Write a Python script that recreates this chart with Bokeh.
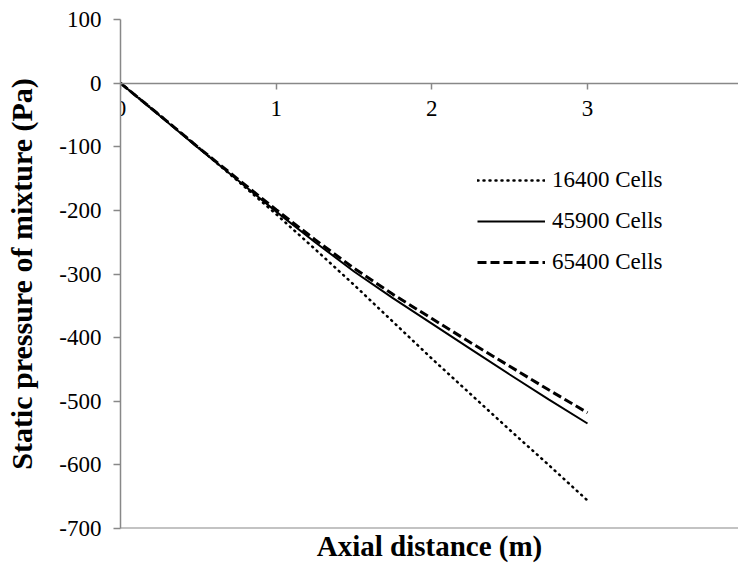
from bokeh.plotting import figure
from bokeh.models import LinearAxis, FixedTicker, Span, Legend, LegendItem, Range1d
from bokeh.embed import file_html
from bokeh.resources import INLINE

# Data
x_vals = [0, 0.25, 0.5, 0.75, 1.0, 1.25, 1.5, 1.75, 2.0, 2.25, 2.5, 2.75, 3.0]
p_16400 = [0, -50, -101, -153, -206, -261, -317, -375, -433, -489, -545, -600, -656]
p_45900 = [0, -51, -102, -152, -202, -250, -296, -338, -378, -418, -458, -497, -535]
p_65400 = [0, -50, -101, -150, -199, -246, -291, -332, -370, -408, -445, -482, -518]
series_names = ["16400 Cells", "45900 Cells", "65400 Cells"]
x_ticks = [0, 1, 2, 3]
y_ticks = [-700, -600, -500, -400, -300, -200, -100, 0, 100]

FONT = "Liberation Serif"
AX = "#888888"

p = figure(width=738, height=573, x_range=Range1d(0, 3.97), y_range=Range1d(-700, 100),
           output_backend="svg", toolbar_location=None, x_axis_location=None,
           y_axis_location=None, min_border_left=120, min_border_right=0,
           min_border_top=19, min_border_bottom=45)
p.xgrid.visible = False
p.ygrid.visible = False
p.outline_line_color = None
p.background_fill_color = "white"
p.border_fill_color = "white"

# Y axis
yax = LinearAxis(ticker=FixedTicker(ticks=y_ticks))
yax.axis_line_color = AX
yax.axis_line_width = 1.5
yax.major_tick_line_color = AX
yax.major_tick_line_width = 1.5
yax.major_tick_out = 7
yax.major_tick_in = 0
yax.minor_tick_line_color = None
yax.major_label_overrides = {t: str(t) for t in y_ticks}
yax.major_label_text_font = FONT
yax.major_label_text_font_size = "23px"
yax.major_label_text_color = "black"
yax.major_label_standoff = 12
yax.axis_label = "Static pressure of mixture (Pa)"
yax.axis_label_text_font = FONT
yax.axis_label_text_font_size = "30px"
yax.axis_label_text_font_style = "bold"
yax.axis_label_text_color = "black"
yax.axis_label_standoff = 18
p.add_layout(yax, "left")

# X axis crossing at y = 0
xax = LinearAxis(ticker=FixedTicker(ticks=x_ticks), fixed_location=0)
xax.axis_line_color = AX
xax.axis_line_width = 1.5
xax.major_tick_line_color = AX
xax.major_tick_line_width = 1.5
xax.major_tick_out = 6
xax.major_tick_in = 0
xax.minor_tick_line_color = None
xax.major_label_text_font = FONT
xax.major_label_text_font_size = "23px"
xax.major_label_text_color = "black"
xax.major_label_standoff = 12
p.add_layout(xax, "below")

# Bottom axis carrying only the title
tax = LinearAxis(ticker=FixedTicker(ticks=[]))
tax.axis_line_color = None
tax.major_tick_line_color = None
tax.minor_tick_line_color = None
tax.axis_label = "Axial distance (m)"
tax.axis_label_text_font = FONT
tax.axis_label_text_font_size = "29px"
tax.axis_label_text_font_style = "bold"
tax.axis_label_text_color = "black"
tax.axis_label_standoff = 1
p.add_layout(tax, "below")

p.add_layout(Span(location=-700, dimension="width", line_color=AX, line_width=2))

r1 = p.line(x_vals, p_16400, line_color="black", line_width=2.5, line_dash="1 5", line_cap="round")
r2 = p.line(x_vals, p_45900, line_color="black", line_width=2)
r3 = p.line(x_vals, p_65400, line_color="black", line_width=3, line_dash="9 4")

legend = Legend(items=[LegendItem(label=series_names[0], renderers=[r1]),
                       LegendItem(label=series_names[1], renderers=[r2]),
                       LegendItem(label=series_names[2], renderers=[r3])],
                location=(357, 253))
legend.border_line_color = None
legend.background_fill_alpha = 0
legend.label_text_font = FONT
legend.label_text_font_size = "23px"
legend.label_text_color = "black"
legend.glyph_width = 68
legend.glyph_height = 20
legend.label_height = 20
legend.spacing = 15
legend.padding = 0
legend.margin = 0
legend.label_standoff = 7
p.add_layout(legend)

open("out.html", "w").write(file_html(p, INLINE))
